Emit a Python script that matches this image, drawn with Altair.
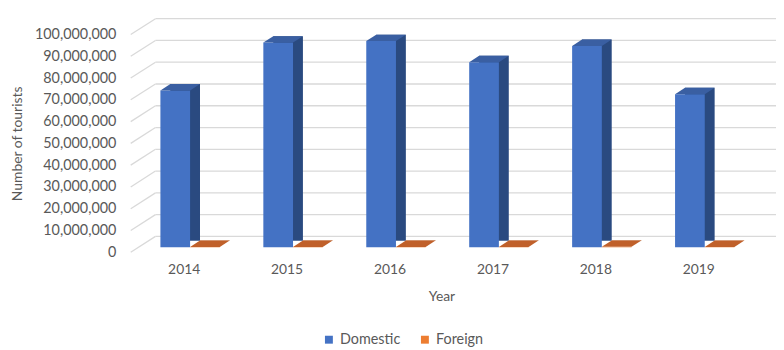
import altair as alt
import pandas as pd

years = ["2014", "2015", "2016", "2017", "2018", "2019"]
domestic = [72_000_000, 94_000_000, 94_700_000, 85_000_000, 92_500_000, 70_300_000]
foreign = [150_000, 170_000, 180_000, 160_000, 190_000, 120_000]
series = ["Domestic", "Foreign"]
tick_values = [0, 10_000_000, 20_000_000, 30_000_000, 40_000_000, 50_000_000,
               60_000_000, 70_000_000, 80_000_000, 90_000_000, 100_000_000]

rows = []
for y, d, f in zip(years, domestic, foreign):
    rows.append({"Year": y, "Series": "Domestic", "Value": d})
    rows.append({"Year": y, "Series": "Foreign", "Value": f})
df = pd.DataFrame(rows)
grid_df = pd.DataFrame({"v": tick_values})

FONT = "Lato"
TXT = "#595959"
GRID = "#D9D9D9"

yscale = alt.Scale(domain=[0, 100_000_000], nice=False, zero=True)
xscale = alt.Scale(paddingInner=0.4231, paddingOuter=0.2115)

y_axis = alt.Axis(values=tick_values, format=",d", grid=False, domain=False,
                  ticks=False, tickSize=0, labelPadding=17,
                  labelFont=FONT, labelFontSize=14.5, labelColor=TXT,
                  title="Number of tourists", titleFont=FONT, titleFontSize=14,
                  titleFontWeight="normal", titleColor=TXT,
                  titleX=-116, titleY=110, titleAngle=270,
                  titleAlign="center", titleBaseline="middle")
x_axis = alt.Axis(title="Year", labelAngle=0, domain=False, ticks=False, tickSize=0,
                  labelPadding=10, labelFont=FONT, labelFontSize=14, labelColor=TXT,
                  titleFont=FONT, titleFontSize=14, titleFontWeight="normal",
                  titleColor=TXT, titleY=45, titleBaseline="middle")

# back wall gridlines
back = alt.Chart(grid_df).mark_rule(color=GRID, strokeWidth=1.3, yOffset=-16).encode(
    y=alt.Y("v:Q", scale=yscale, axis=y_axis),
    x=alt.value(23),
    x2=alt.value(650),
)

# side wall diagonals
side_wall = alt.Chart(grid_df).mark_rule(color=GRID, strokeWidth=1.3, y2Offset=-16).encode(
    y=alt.Y("v:Q", scale=yscale, axis=y_axis),
    y2="v:Q",
    x=alt.value(-2),
    x2=alt.value(23),
)

# dark side faces of bars (shifted back in depth)
sides = alt.Chart(df).mark_bar(yOffset=-11.5, y2Offset=-11.5).encode(
    x=alt.X("Year:N", scale=xscale, axis=x_axis, sort=years),
    xOffset=alt.XOffset("Series:N", scale=alt.Scale(range=[16, 76], paddingInner=0, paddingOuter=0),
                        sort=series),
    y=alt.Y("Value:Q", scale=yscale, axis=y_axis),
    color=alt.Color("Series:N", scale=alt.Scale(domain=series, range=["#2A4A80", "#A9521C"]),
                    legend=None),
)

# front faces
front = alt.Chart(df).mark_bar(yOffset=-5, y2Offset=-5).encode(
    x=alt.X("Year:N", scale=xscale, axis=x_axis, sort=years),
    xOffset=alt.XOffset("Series:N", scale=alt.Scale(range=[6, 66], paddingInner=0, paddingOuter=0),
                        sort=series),
    y=alt.Y("Value:Q", scale=yscale, axis=y_axis),
    color=alt.Color("Series:N", scale=alt.Scale(domain=series, range=["#4472C4", "#ED7D31"]),
                    legend=alt.Legend(title=None, orient="none", direction="horizontal",
                                      legendX=191, legendY=301, symbolType="square",
                                      symbolSize=64, symbolStrokeWidth=0,
                                      labelFont=FONT, labelFontSize=14.5, labelColor=TXT,
                                      labelOffset=4, columnPadding=17)),
)

# top faces as parallelograms (point scale for offsets: centers of the front faces)
tops = alt.Chart(df).mark_point(
    shape="M-1,0L1,0L1.667,-0.433L-0.333,-0.433Z", size=900, filled=True,
    opacity=1, strokeWidth=0, yOffset=-5,
).encode(
    x=alt.X("Year:N", scale=xscale, axis=x_axis, sort=years),
    xOffset=alt.XOffset("Series:N", scale=alt.Scale(range=[21, 51], paddingInner=0, paddingOuter=0),
                        sort=series),
    y=alt.Y("Value:Q", scale=yscale, axis=y_axis),
    color=alt.Color("Series:N", scale=alt.Scale(domain=series, range=["#3A5FA2", "#C0602A"]),
                    legend=None),
)

chart = alt.layer(back, side_wall, sides, front, tops).resolve_scale(
    color="independent", xOffset="independent"
).properties(
    width=624, height=220,
    padding={"left": 126, "top": 25, "right": 26, "bottom": 97},
    autosize="none",
).configure_view(stroke=None)

chart.save("out.html", embed_options={"renderer": "svg", "actions": False})
